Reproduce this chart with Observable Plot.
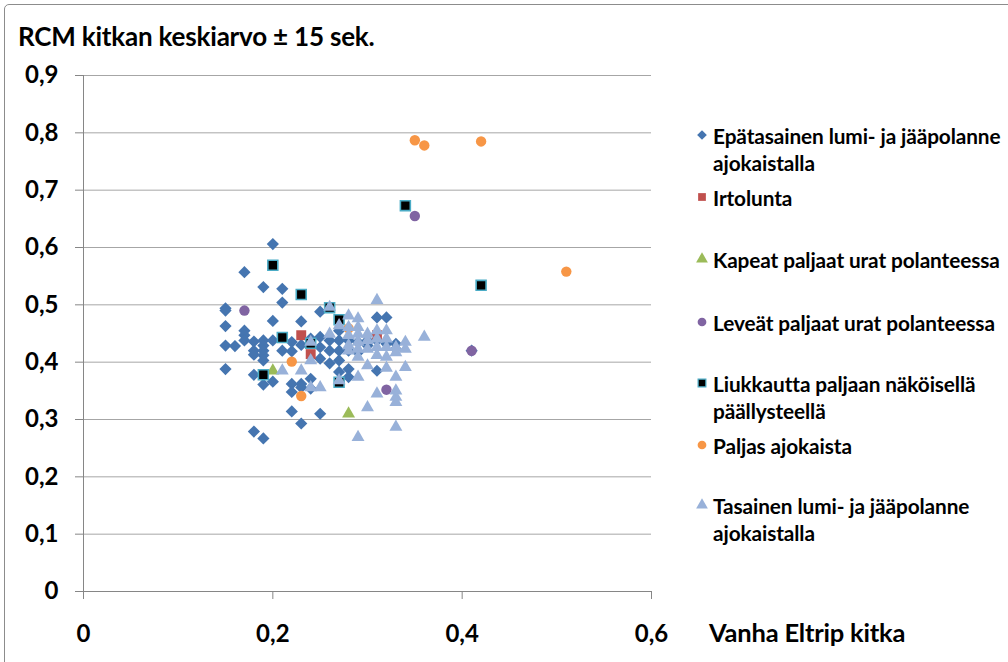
<!DOCTYPE html>
<html><head><meta charset="utf-8">
<script src="https://cdn.jsdelivr.net/npm/d3@7"></script>
<script src="https://cdn.jsdelivr.net/npm/@observablehq/plot@0.6"></script>
<style>
body{margin:0;background:#fff;overflow:hidden;}
#wrap{position:relative;width:1008px;height:662px;overflow:hidden;font-family:Lato,"Open Sans",sans-serif;font-weight:700;color:#000;}
#frame{position:absolute;left:4px;top:4px;width:1030px;height:690px;border:1px solid #8c8c8c;border-radius:5px;}
#chart{position:absolute;left:0;top:0;}
#title{position:absolute;left:18px;top:20px;font-size:26px;white-space:nowrap;letter-spacing:-0.2px;}
#xtitle{position:absolute;left:709px;top:617px;font-size:25.5px;white-space:nowrap;letter-spacing:-0.2px;}
.leg{position:absolute;left:713px;font-size:20.8px;line-height:27px;white-space:nowrap;letter-spacing:-0.1px;}
.legsym{position:absolute;left:694px;}
</style></head>
<body>
<div id="wrap">
  <div id="frame"></div>
  <div id="chart"></div>
  <div id="title">RCM kitkan keskiarvo ± 15 sek.</div>
  <div id="xtitle">Vanha Eltrip kitka</div>
</div>
<script>
// ---- data: [Vanha Eltrip kitka, RCM kitkan keskiarvo] ----
const epatasainen = [
  [0.15,0.494],[0.15,0.490],[0.15,0.463],[0.15,0.429],[0.15,0.388],
  [0.16,0.428],
  [0.17,0.557],[0.17,0.455],[0.17,0.447],[0.17,0.438],
  [0.18,0.436],[0.18,0.420],[0.18,0.413],[0.18,0.378],[0.18,0.279],
  [0.19,0.531],[0.19,0.438],[0.19,0.429],[0.19,0.420],[0.19,0.412],[0.19,0.403],[0.19,0.361],[0.19,0.267],
  [0.20,0.606],[0.20,0.472],[0.20,0.438],[0.20,0.366],
  [0.21,0.528],[0.21,0.504],[0.21,0.420],
  [0.22,0.435],[0.22,0.419],[0.22,0.362],[0.22,0.348],[0.22,0.314],
  [0.23,0.471],[0.23,0.430],[0.23,0.362],[0.23,0.356],[0.23,0.293],
  [0.24,0.441],[0.24,0.371],[0.24,0.354],
  [0.25,0.488],[0.25,0.444],[0.25,0.426],[0.25,0.406],[0.25,0.310],
  [0.26,0.438],[0.26,0.420],[0.26,0.398],
  [0.27,0.455],[0.27,0.438],[0.27,0.420],[0.27,0.403],[0.27,0.383],
  [0.28,0.438],[0.28,0.420],[0.28,0.388],[0.28,0.374],
  [0.29,0.435],[0.29,0.417],
  [0.30,0.438],[0.30,0.429],
  [0.31,0.478],[0.31,0.438],[0.31,0.385],
  [0.32,0.478],[0.32,0.432],
  [0.33,0.432],[0.33,0.423],
  [0.41,0.420]
];
const irtolunta = [[0.23,0.447],[0.24,0.414],[0.31,0.447]];
const kapeat = [[0.20,0.385],[0.28,0.310]];
const leveat = [[0.17,0.490],[0.32,0.352],[0.35,0.655],[0.41,0.420]];
const liukkautta = [
  [0.19,0.378],[0.20,0.569],[0.21,0.443],[0.23,0.518],[0.24,0.433],
  [0.26,0.495],[0.27,0.474],[0.27,0.365],[0.34,0.673],[0.42,0.534]
];
const paljas = [[0.22,0.401],[0.23,0.341],[0.28,0.459],[0.35,0.787],[0.36,0.778],[0.42,0.785],[0.51,0.558]];
const tasainen = [
  [0.21,0.385],[0.23,0.385],
  [0.24,0.435],[0.24,0.403],[0.24,0.356],
  [0.25,0.356],
  [0.26,0.496],[0.26,0.449],
  [0.27,0.464],[0.27,0.368],
  [0.28,0.481],[0.28,0.461],[0.28,0.447],[0.28,0.429],[0.28,0.420],
  [0.29,0.476],[0.29,0.461],[0.29,0.449],[0.29,0.435],[0.29,0.423],[0.29,0.409],[0.29,0.374],[0.29,0.269],
  [0.30,0.449],[0.30,0.438],[0.30,0.423],[0.30,0.394],[0.30,0.321],
  [0.31,0.508],[0.31,0.455],[0.31,0.441],[0.31,0.426],[0.31,0.412],[0.31,0.345],
  [0.32,0.455],[0.32,0.441],[0.32,0.426],[0.32,0.409],[0.32,0.390],
  [0.33,0.426],[0.33,0.417],[0.33,0.374],[0.33,0.350],[0.33,0.339],[0.33,0.330],[0.33,0.287],
  [0.34,0.435],[0.34,0.423],[0.34,0.391],
  [0.36,0.444]
];
const seriesNames = [
  "Epätasainen lumi- ja jääpolanne ajokaistalla",
  "Irtolunta",
  "Kapeat paljaat urat polanteessa",
  "Leveät paljaat urat polanteessa",
  "Liukkautta paljaan näköisellä päällysteellä",
  "Paljas ajokaista",
  "Tasainen lumi- ja jääpolanne ajokaistalla"
];
const legendLines = [
  ["Epätasainen lumi- ja jääpolanne","ajokaistalla"],
  ["Irtolunta"],
  ["Kapeat paljaat urat polanteessa"],
  ["Leveät paljaat urat polanteessa"],
  ["Liukkautta paljaan näköisellä","päällysteellä"],
  ["Paljas ajokaista"],
  ["Tasainen lumi- ja jääpolanne","ajokaistalla"]
];
const yTicks = [0,0.1,0.2,0.3,0.4,0.5,0.6,0.7,0.8,0.9];
const xTicks = [0,0.2,0.4,0.6];

// ---- styles ----
const seriesData = [epatasainen, irtolunta, kapeat, leveat, liukkautta, paljas, tasainen];
const fills   = ["#4575b0","#c0504d","#9bbb59","#8064a2","#000000","#f79646","#98b1d9"];
const strokes = ["none","none","none","none","#4bacc6","none","none"];
const symbols = ["diamond2","square","triangle","circle","square","circle","triangle"];
const radii   = [5.5,5.6,4.8,5.2,5.6,5.2,4.8];

const fmt = d => d === 0 ? "0" : d3.format(".1f")(d).replace(".", ",");

const marks = [
  Plot.ruleY(yTicks.filter(d => d > 0), {stroke:"#a6a6a6", strokeWidth:1}),
  Plot.ruleX([0], {stroke:"#868686", strokeWidth:1}),
  Plot.ruleY([0], {stroke:"#868686", strokeWidth:1}),
  Plot.axisY({ticks: yTicks, tickFormat: fmt, tickSize: 8, tickPadding: 17,
    fontSize: 24, fontWeight: "bold", stroke:"#868686", label: null}),
  Plot.axisX({ticks: xTicks, tickFormat: fmt, tickSize: 8, tickPadding: 25,
    fontSize: 24, fontWeight: "bold", stroke:"#868686", label: null})
];
seriesData.forEach((data, i) => {
  marks.push(Plot.dot(data, {
    x: d => d[0], y: d => d[1],
    symbol: () => symbols[i], r: radii[i],
    fill: fills[i], stroke: strokes[i], strokeWidth: strokes[i] === "none" ? 0 : 1.6
  }));
});

const chart = Plot.plot({
  width: 700, height: 662,
  marginLeft: 83, marginRight: 49, marginTop: 75, marginBottom: 71,
  x: {domain: [0, 0.6]},
  y: {domain: [0, 0.9]},
  symbol: {type: "identity"},
  style: {fontFamily: "Lato, 'Open Sans', sans-serif", color: "#000", background: "transparent", overflow: "visible"},
  marks
});
d3.select(chart).selectAll("g[aria-label='y-axis tick'] path, g[aria-label='x-axis tick'] path").attr("stroke", "#868686");
d3.select(chart).selectAll("g[aria-label='y-axis tick label'], g[aria-label='x-axis tick label']").attr("fill", "#000");
document.getElementById("chart").appendChild(chart);

// ---- legend ----
const wrap = document.getElementById("wrap");
const legendCenters = [135, 197, 259, 322, 383, 445, 505];
const symMap = {diamond2: d3.symbolDiamond2, square: d3.symbolSquare, triangle: d3.symbolTriangle, circle: d3.symbolCircle};
legendLines.forEach((lines, i) => {
  const cy = legendCenters[i];
  const svg = d3.create("svg").attr("class","legsym").attr("width",16).attr("height",16)
    .style("top", (cy - 8) + "px");
  svg.append("path")
    .attr("transform","translate(8,8)")
    .attr("d", d3.symbol(symMap[symbols[i]], 60)())
    .attr("fill", fills[i])
    .attr("stroke", strokes[i])
    .attr("stroke-width", strokes[i] === "none" ? 0 : 1.2);
  wrap.appendChild(svg.node());
  const div = document.createElement("div");
  div.className = "leg";
  div.style.top = (cy - 13.5) + "px";
  div.title = seriesNames[i];
  div.innerHTML = lines.map(l => `<div>${l}</div>`).join("");
  wrap.appendChild(div);
});
</script>
</body></html>
